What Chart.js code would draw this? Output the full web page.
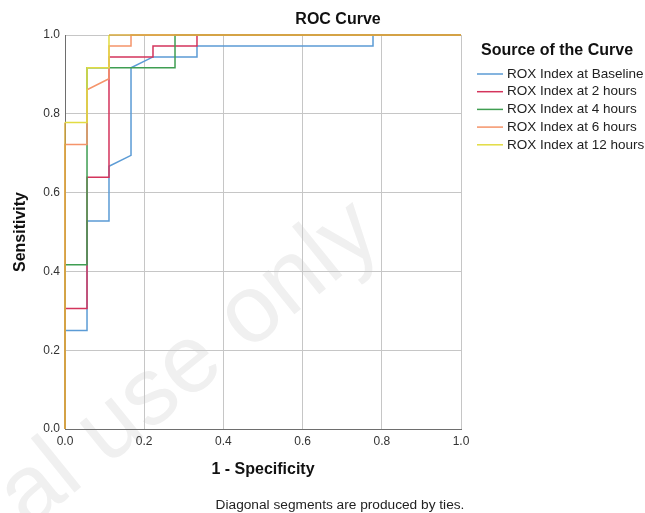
<!DOCTYPE html>
<html>
<head>
<meta charset="utf-8">
<script src="https://cdn.jsdelivr.net/npm/chart.js@4/dist/chart.umd.min.js"></script>
<style>
  html, body { margin:0; padding:0; background:#fff; }
  #wrap { width:645px; height:513px; }
</style>
</head>
<body>
<div id="wrap"><canvas id="roc" width="645" height="513"></canvas></div>
<script>
// ── DATA ──
const SERIES_NAMES = ['ROX Index at Baseline','ROX Index at 2 hours','ROX Index at 4 hours','ROX Index at 6 hours','ROX Index at 12 hours'];
const COLORS       = ['#5b9bd5','#d4345c','#3f9e52','#f5946a','#e2dc42'];
const OVERLAP_CLR  = '#d6a83c';   // where all curves sit on top of each other

const baseX = [0, 0, 0.0556, 0.0556, 0.1111, 0.1111, 0.1667, 0.1667, 0.2222, 0.3333, 0.3333, 0.7778, 0.7778, 1];
const baseY = [0, 0.25, 0.25, 0.5278, 0.5278, 0.6667, 0.6944, 0.9167, 0.9444, 0.9444, 0.9722, 0.9722, 1, 1];

const h2X = [0, 0, 0.0556, 0.0556, 0.1111, 0.1111, 0.2222, 0.2222, 0.3333, 0.3333, 1];
const h2Y = [0, 0.3056, 0.3056, 0.6389, 0.6389, 0.9444, 0.9444, 0.9722, 0.9722, 1, 1];

const h4X = [0, 0, 0.0556, 0.0556, 0.2778, 0.2778, 1];
const h4Y = [0, 0.4167, 0.4167, 0.9167, 0.9167, 1, 1];

const h6X = [0, 0, 0.0556, 0.0556, 0.1111, 0.1111, 0.1667, 0.1667, 1];
const h6Y = [0, 0.7222, 0.7222, 0.8611, 0.8889, 0.9722, 0.9722, 1, 1];

const h12X = [0, 0, 0.0556, 0.0556, 0.1111, 0.1111, 1];
const h12Y = [0, 0.7778, 0.7778, 0.9167, 0.9167, 1, 1];

const TICKS = [0, 0.2, 0.4, 0.6, 0.8, 1.0];

const CURVES = [[baseX, baseY], [h2X, h2Y], [h4X, h4Y], [h6X, h6Y], [h12X, h12Y]];

const FONT = 'Liberation Sans, Arial, sans-serif';

// ── helpers ──
const pts = (xs, ys) => xs.map((x, i) => ({ x, y: ys[i] }));

// segments lying on the shared top edge / left edge get the blended colour
const sharedSeg = ctx => {
  const a = ctx.p0.parsed, b = ctx.p1.parsed;
  if ((a.y === 1 && b.y === 1) || (a.x === 0 && b.x === 0)) return OVERLAP_CLR;
  return undefined;
};

// extra text: title, legend, footnote, watermark
const decor = {
  id: 'decor',
  beforeDraw(chart) {
    const c = chart.ctx;
    c.save();
    c.translate(28, 530);
    c.rotate(-39 * Math.PI / 180);
    c.font = `96px ${FONT}`;
    c.fillStyle = '#f0f0f0';
    c.textBaseline = 'alphabetic';
    c.fillText('al use only', 0, 0);
    c.restore();
  },
  afterDraw(chart) {
    const c = chart.ctx;
    c.save();
    c.fillStyle = '#111';
    c.textBaseline = 'middle';

    c.font = `bold 16px ${FONT}`;
    c.textAlign = 'center';
    c.fillText('ROC Curve', 338, 20);

    c.textAlign = 'left';
    c.fillText('Source of the Curve', 481, 51);

    c.font = `13.5px ${FONT}`;
    chart.data.datasets.forEach((ds, i) => {
      const y = 74 + i * 17.7;
      c.strokeStyle = ds.borderColor;
      c.lineWidth = 1.5;
      c.beginPath();
      c.moveTo(477, y);
      c.lineTo(503, y);
      c.stroke();
      c.fillStyle = '#222';
      c.fillText(ds.label, 507, y);
    });

    c.textAlign = 'center';
    c.font = `13.7px ${FONT}`;
    c.fillStyle = '#222';
    c.fillText('Diagonal segments are produced by ties.', 340, 505);
    c.restore();
  }
};

const axisTicks = {
  color: '#333',
  font: { family: FONT, size: 12 },
  padding: 5,
  autoSkip: false,
  maxRotation: 0
};

new Chart(document.getElementById('roc'), {
  type: 'line',
  data: {
    datasets: CURVES.map((c, i) => ({
      label: SERIES_NAMES[i],
      data: pts(c[0], c[1]),
      borderColor: COLORS[i],
      backgroundColor: COLORS[i],
      borderWidth: 1.5,
      pointRadius: 0,
      tension: 0,
      fill: false,
      clip: 3,
      order: CURVES.length - i,
      segment: i === CURVES.length - 1 ? { borderColor: sharedSeg } : {}
    }))
  },
  options: {
    responsive: false,
    animation: false,
    devicePixelRatio: 1,
    layout: { padding: { top: 35, right: 184, bottom: 30, left: 0 } },
    plugins: {
      legend: { display: false },
      tooltip: { enabled: false },
      title: { display: false }
    },
    scales: {
      x: {
        type: 'linear',
        min: 0, max: 1,
        afterBuildTicks: s => { s.ticks = TICKS.map(v => ({ value: v })); },
        afterFit: s => { s.height = 54; },
        ticks: { ...axisTicks, callback: v => v.toFixed(1) },
        grid: { color: '#c6c6c6', lineWidth: 1, drawTicks: false },
        border: { color: '#6e6e6e', width: 1 },
        title: {
          display: true, text: '1 - Specificity', color: '#111',
          font: { family: FONT, size: 16, weight: 'bold' },
          padding: { top: 0, bottom: 4 }
        }
      },
      y: {
        type: 'linear',
        min: 0, max: 1,
        afterBuildTicks: s => { s.ticks = TICKS.map(v => ({ value: v })); },
        afterFit: s => { s.width = 65; },
        ticks: { ...axisTicks, callback: v => v.toFixed(1) },
        grid: { color: '#c6c6c6', lineWidth: 1, drawTicks: false },
        border: { color: '#6e6e6e', width: 1 },
        title: {
          display: true, text: 'Sensitivity', color: '#111',
          font: { family: FONT, size: 16, weight: 'bold' },
          padding: { top: 11, bottom: 0 }
        }
      }
    }
  },
  plugins: [decor]
});
</script>
</body>
</html>
